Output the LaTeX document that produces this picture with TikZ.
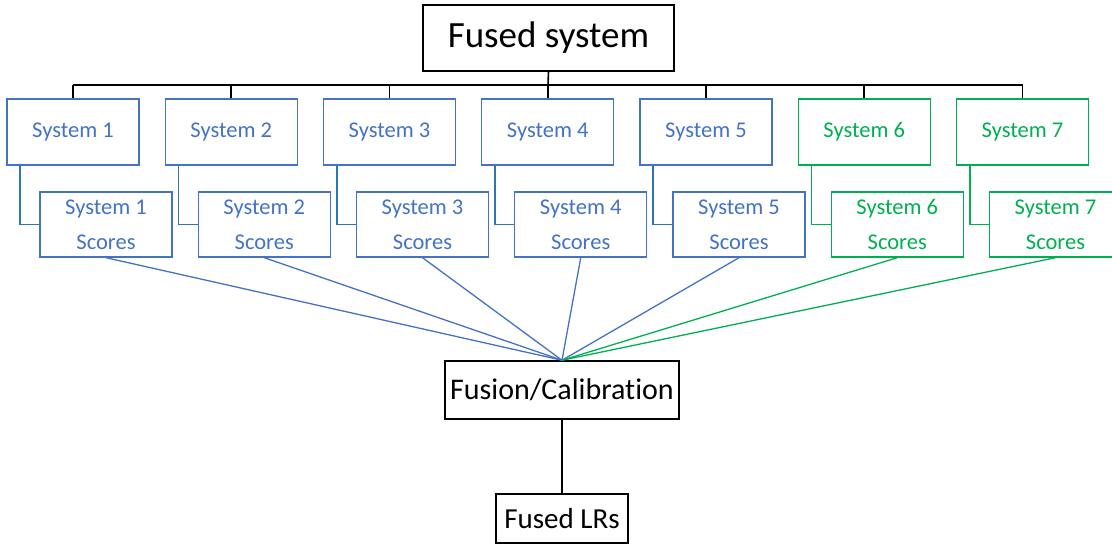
\documentclass[tikz,border=0pt]{standalone}
\usepackage{fontspec}
\setmainfont[Ligatures={NoCommon,NoRare}]{Carlito}
\definecolor{sysblue}{RGB}{68,114,196}
\definecolor{linkblue}{RGB}{46,117,182}
\definecolor{sysgreen}{RGB}{0,176,80}
\begin{document}
\begin{tikzpicture}[x=1pt,y=-1pt,
  blk/.style={draw=black,line width=1.5pt,inner sep=0pt,text=black},
  sysbox/.style={draw,line width=1.4pt,minimum width=132pt,minimum height=66pt,inner sep=0pt,font=\fontsize{22.5}{26}\selectfont},
  scbox/.style={draw,line width=1.4pt,minimum width=132pt,minimum height=65pt,inner sep=0pt,align=center,font=\fontsize{22.5}{35}\selectfont},
  bluesys/.style={draw=sysblue,text=sysblue},
  greensys/.style={draw=sysgreen,text=sysgreen},
  bus/.style={line width=1.6pt,black},
  fanblue/.style={sysblue,line width=1.3pt},
  fangreen/.style={sysgreen,line width=1.3pt},
  linkb/.style={linkblue,line width=1.8pt},
  linkg/.style={sysgreen,line width=1.8pt}]
\useasboundingbox (0,0) rectangle (1112,548);
\node[blk,minimum width=251pt,minimum height=66pt,font=\fontsize{37}{40}\selectfont] (top) at (548.5,38) {Fused system};
\coordinate (busc) at (548,85);
\foreach \i/\st in {1/bluesys,2/bluesys,3/bluesys,4/bluesys,5/bluesys,6/greensys,7/greensys}{
  \node[sysbox,\st] (s\i) at ({73+158.25*(\i-1)},132) {System \i};
  \node[scbox,\st] (c\i) at ({106+158.25*(\i-1)},224.5) {System \i\\Scores};
}
\node[blk,minimum width=234pt,minimum height=58pt,font=\fontsize{30}{34}\selectfont] (fus) at (562,390) {Fusion/Calibrat\kern0pt ion};
\node[blk,minimum width=132pt,minimum height=49pt,font=\fontsize{29}{32}\selectfont] (lrs) at (562,518.5) {Fused LRs};
% bus
\draw[bus] (top.south) -- (busc);
\draw[bus] (s1.north |- busc) -- (s7.north |- busc);
\foreach \i in {1,...,7}{\draw[bus] (s\i.north |- busc) -- (s\i.north);}
% system to scores links
\foreach \i in {1,...,5}{\draw[linkb] ([xshift=14pt]s\i.south west) |- (c\i.west);}
\foreach \i in {6,7}{\draw[linkg] ([xshift=14pt]s\i.south west) |- (c\i.west);}
% fan
\foreach \i in {1,...,5}{\draw[fanblue] (c\i.south) -- (fus.north);}
\foreach \i in {6,7}{\draw[fangreen] (c\i.south) -- (fus.north);}
\draw[line width=1.6pt] (fus.south) -- (lrs.north);
\end{tikzpicture}
\end{document}
